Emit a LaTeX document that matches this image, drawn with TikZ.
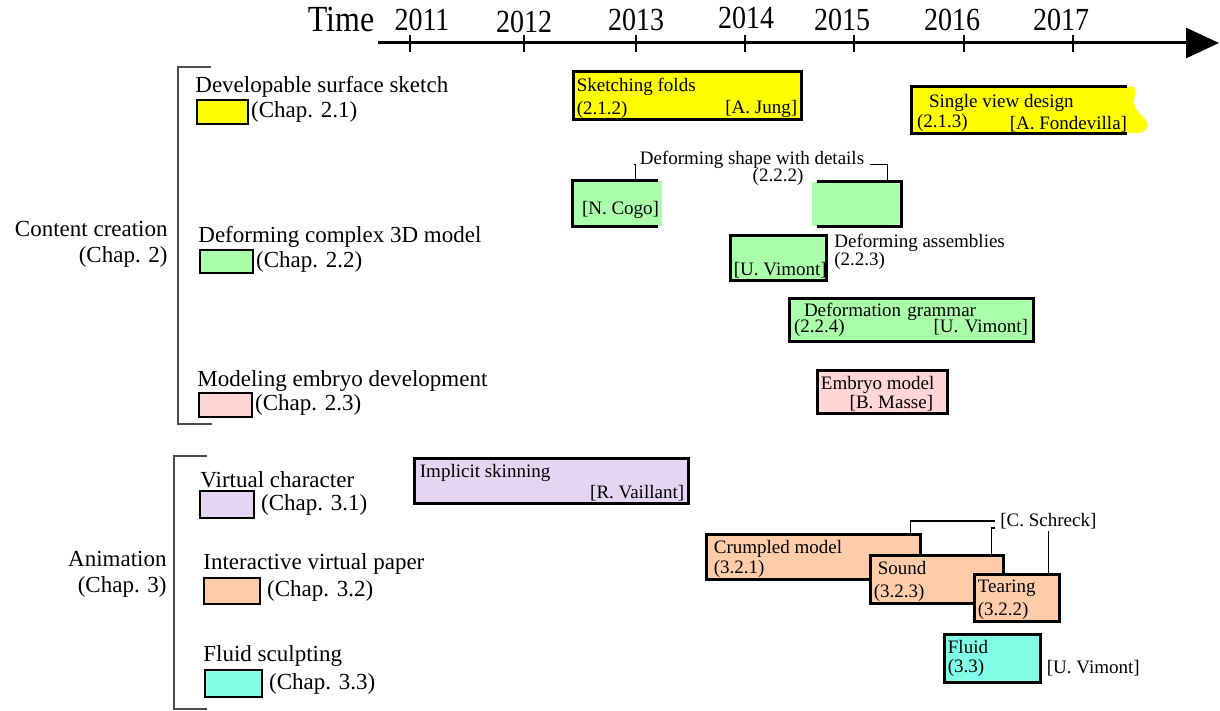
\documentclass[tikz,border=0pt]{standalone}
\usepackage{fontspec}
\setmainfont{Liberation Serif}
\usetikzlibrary{arrows.meta,calc,fit,positioning}

\definecolor{cyel}{HTML}{FFFF00}
\definecolor{cgreen}{HTML}{AAFFAA}
\definecolor{cpink}{HTML}{FFD5D5}
\definecolor{clav}{HTML}{E5D5F2}
\definecolor{corange}{HTML}{FFCCAA}
\definecolor{cteal}{HTML}{80FFE6}

\tikzset{
    proj/.style={draw, line width=1.5pt, inner sep=0pt},
    legbox/.style={draw, line width=0.8pt, inner sep=0pt},
    btxt/.style={font=\fontsize{9.5}{11}\selectfont, inner xsep=2.5pt, inner ysep=1.5pt},
    toptxt/.style={btxt, anchor=north west, yshift=-2pt},
    bottxt/.style={btxt, anchor=south west},
    cat/.style={font=\fontsize{11.5}{13}\selectfont, inner sep=0pt, anchor=west},
    grp/.style={font=\fontsize{11.5}{13}\selectfont, inner sep=0pt, anchor=east, align=right},
    conn/.style={line width=0.6pt},
    brack/.style={draw=black!70, line width=0.8pt},
    year/.style={font=\fontsize{14}{14}\selectfont, inner sep=0pt}
}

\begin{document}
\begin{tikzpicture}[x=0.5pt, y=-0.5pt]
    \useasboundingbox (0,0) rectangle (1220,711);

    % time axis
    \draw[line width=1.5pt, -{Triangle[length=16.5pt,width=15pt]}] (378,43) -- (1219,43);
    \node[font=\fontsize{16}{16}\selectfont, inner sep=0pt] (time) at (341,20) {\scalebox{1}[1.15]{Time}};
    \draw[line width=1pt] (410,35) -- (410,52);
    \draw[line width=1pt] (524,35) -- (524,52);
    \draw[line width=1pt] (636,35) -- (636,52);
    \draw[line width=1pt] (745,35) -- (745,52);
    \draw[line width=1pt] (854,35) -- (854,52);
    \draw[line width=1pt] (964,35) -- (964,52);
    \draw[line width=1pt] (1073,35) -- (1073,52);
    \node[year] (y11) at (422,20) {\scalebox{1}[1.15]{2011}};
    \node[year] (y12) at (524,22) {\scalebox{1}[1.15]{2012}};
    \node[year] (y13) at (636,20) {\scalebox{1}[1.15]{2013}};
    \node[year] (y14) at (746,18) {\scalebox{1}[1.15]{2014}};
    \node[year] (y15) at (842,20) {\scalebox{1}[1.15]{2015}};
    \node[year] (y16) at (952,20) {\scalebox{1}[1.15]{2016}};
    \node[year] (y17) at (1061,20) {\scalebox{1}[1.15]{2017}};

    % content creation
    \node[grp] (cc) at (168,244) {Content creation\\(Chap. 2)};
    \draw[brack] (211,67) -- (178,67) -- (178,424) -- (212,424);
    \node[cat] (c21) at (195,87) {Developable surface sketch};
    \node[legbox, fill=cyel, fit={(197,100) (248,124)}] (l21) {};
    \node[cat, right=1pt of l21] (l21t) {(Chap. 2.1)};
    \node[cat] (c22) at (198,237) {Deforming complex 3D model};
    \node[legbox, fill=cgreen, fit={(200,250) (253,273)}] (l22) {};
    \node[cat, right=1pt of l22] (l22t) {(Chap. 2.2)};
    \node[cat] (c23) at (197,381) {Modeling embryo development};
    \node[legbox, fill=cpink, fit={(199,393) (252,417)}] (l23) {};
    \node[cat, right=1pt of l23] (l23t) {(Chap. 2.3)};

    % animation
    \node[grp] (an) at (167,574) {Animation\\(Chap. 3)};
    \draw[brack] (207,456) -- (174,456) -- (174,709) -- (207,709);
    \node[cat] (c31) at (200,480) {Virtual character};
    \node[legbox, fill=clav, fit={(200,491) (254,518)}] (l31) {};
    \node[cat, right=3pt of l31] (l31t) {(Chap. 3.1)};
    \node[cat] (c32) at (203,564) {Interactive virtual paper};
    \node[legbox, fill=corange, fit={(204,578) (260,604)}] (l32) {};
    \node[cat, right=3pt of l32] (l32t) {(Chap. 3.2)};
    \node[cat] (c33) at (203,656) {Fluid sculpting};
    \node[legbox, fill=cteal, fit={(205,670) (262,697)}] (l33) {};
    \node[cat, right=3pt of l33] (l33t) {(Chap. 3.3)};

    % sketching folds
    \node[proj, fill=cyel, fit={(573,72) (801,120)}] (skf) {};
    \node[toptxt] (skft) at (skf.north west) {Sketching folds};
    \node[bottxt] (skfn) at (skf.south west) {(2.1.2)};
    \node[btxt, anchor=south east] (skfa) at (skf.south east) {[A. Jung]};

    % single view design
    \fill[cyel] (912,87) -- (1134,87) .. controls (1138,93) and (1131,100) .. (1136,109) .. controls (1141,117) and (1151,121) .. (1146,129) .. controls (1143,134) and (1136,133) .. (1127,133) -- (912,133) -- cycle;
    \node[inner sep=0pt, fit={(912,87) (1127,133)}] (svd) {};
    \draw[line width=1.5pt] (svd.north east) -- (svd.north west) -- (svd.south west) -- (svd.south east);
    \node[toptxt] (svdt) at ($(svd.north west)+(12,0)$) {Single view design};
    \node[bottxt, yshift=-1pt] (svdn) at (svd.south west) {(2.1.3)};
    \node[btxt, anchor=south east, yshift=-1pt] (svda) at ($(svd.south east)+(5,0)$) {[A. Fondevilla]};

    % deforming shape with details
    \node[fill=cgreen, inner sep=0pt, fit={(573,181) (662,226)}] (dsl) {};
    \draw[line width=1.5pt] ($(dsl.north east)+(-4,0)$) -- (dsl.north west) -- (dsl.south west) -- ($(dsl.south east)+(-4,0)$);
    \node[bottxt, yshift=2pt] (dsla) at ($(dsl.south west)+(4,0)$) {[N. Cogo]};
    \node[fill=cgreen, inner sep=0pt, fit={(812,182) (901,226)}] (dsr) {};
    \draw[line width=1.5pt] ($(dsr.north west)+(5,0)$) -- (dsr.north east) -- (dsr.south east) -- ($(dsr.south west)+(5,0)$);
    \node[btxt, inner ysep=1pt] (dsd) at (752,160) {Deforming shape with details};
    \node[btxt, inner ysep=1pt] (dsdn) at (778,177) {(2.2.2)};
    \draw[conn] ($(dsl.north west)+(63,0)$) |- (dsd.base west);
    \draw[conn] (dsd.base east) -| ($(dsr.north east)+(-14,0)$);

    % deforming assemblies
    \node[proj, fill=cgreen, fit={(730,236) (826,280)}] (da) {};
    \node[bottxt] (daa) at (da.south west) {[U. Vimont]};
    \node[btxt, inner ysep=0pt, anchor=north west, align=left] (dal) at (829,234) {Deforming assemblies\\[-2pt](2.2.3)};

    % deformation grammar
    \node[proj, fill=cgreen, minimum height=21.5pt, text width=117pt, inner xsep=2.5pt, align=left,
          font=\fontsize{9.5}{11}\selectfont] (dg) at (911,319.5)
          {\hspace*{5pt}Deformation grammar\\[-3pt](2.2.4)\hskip 0pt plus 1fill [U. Vimont]};

    % embryo model
    \node[proj, fill=cpink, fit={(817,370) (947,413)}] (em) {};
    \node[toptxt] (emt) at (em.north west) {Embryo model};
    \node[btxt, anchor=south east] (ema) at ($(em.south east)+(-10,0)$) {[B. Masse]};

    % implicit skinning
    \node[proj, fill=clav, fit={(414,458) (688,503)}] (is) {};
    \node[toptxt] (ist) at ($(is.north west)+(2,0)$) {Implicit skinning};
    \node[btxt, anchor=south east] (isa) at (is.south east) {[R. Vaillant]};

    % interactive virtual paper
    \node[proj, fill=corange, fit={(706,534) (920,579)}] (cm) {};
    \node[toptxt] (cmt) at ($(cm.north west)+(4,0)$) {Crumpled model};
    \node[bottxt] (cmn) at ($(cm.south west)+(4,0)$) {(3.2.1)};
    \node[proj, fill=corange, fit={(870,555) (1003,603)}] (snd) {};
    \node[toptxt] (sndt) at ($(snd.north west)+(4,0)$) {Sound};
    \node[bottxt] (sndn) at (snd.south west) {(3.2.3)};
    \node[proj, fill=corange, fit={(974,574) (1059,621)}] (tr) {};
    \node[toptxt] (trt) at (tr.north west) {Tearing};
    \node[bottxt] (trn) at (tr.south west) {(3.2.2)};
    \node[btxt, inner ysep=1pt, anchor=west] (cs) at (995,521) {[C. Schreck]};
    \draw[conn] ($(cm.north east)+(-11,0)$) |- (cs.west);
    \draw[conn] ($(snd.north east)+(-13,0)$) |- ($(cs.west)+(0,7)$);
    \draw[conn] (cs.south) -- (cs.south |- tr.north);

    % fluid
    \node[proj, fill=cteal, fit={(944,634) (1040,682)}] (fl) {};
    \node[toptxt] (flt) at (fl.north west) {Fluid};
    \node[bottxt, yshift=2pt] (fln) at (fl.south west) {(3.3)};
    \node[btxt, inner ysep=1pt, anchor=west] (fla) at ($(fl.east)+(0,10)$) {[U. Vimont]};
\end{tikzpicture}
\end{document}
